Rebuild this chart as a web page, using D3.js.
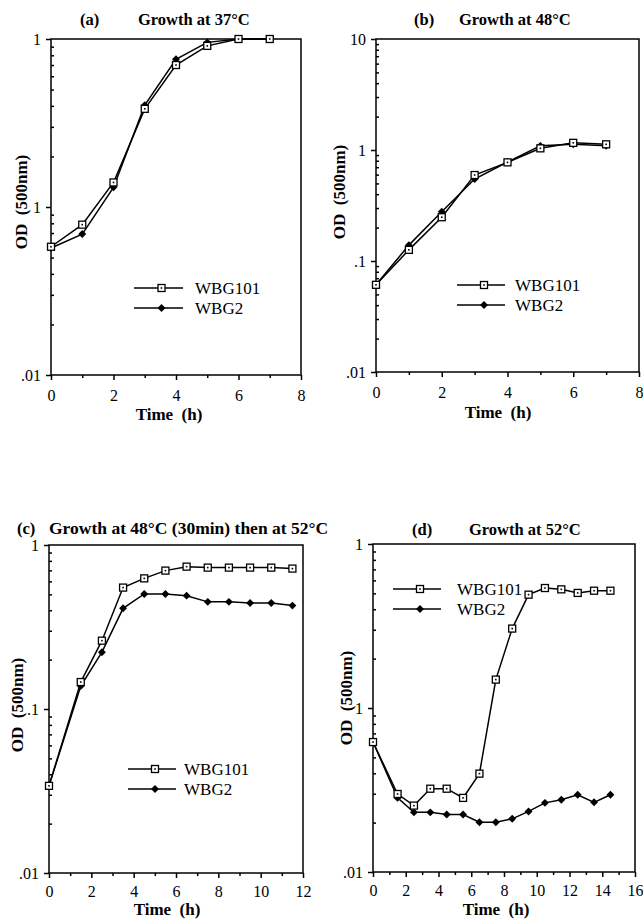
<!DOCTYPE html>
<html>
<head>
<meta charset="utf-8">
<script src="https://cdn.jsdelivr.net/npm/d3@7"></script>
<style>
  body { margin: 0; background: #fff; }
  svg text { font-family: "Liberation Serif", "Times New Roman", serif; fill: #000; white-space: pre; }
  .title, .axis-title { font-weight: bold; }
</style>
</head>
<body>
<svg id="chart" width="643" height="919"></svg>
<script>
// ---- data ----
var timeA = [0, 1, 2, 3, 4, 5, 6, 7];
var wbg101A = [0.058, 0.0785, 0.14, 0.384, 0.70, 0.91, 1.0, 1.0];
var wbg2A   = [0.057, 0.069, 0.131, 0.404, 0.757, 0.955, 1.0, 1.0];

var timeB = [0, 1, 2, 3, 4, 5, 6, 7];
var wbg101B = [0.061, 0.126, 0.248, 0.595, 0.774, 1.035, 1.16, 1.125];
var wbg2B   = [0.061, 0.139, 0.278, 0.548, 0.78, 1.09, 1.125, 1.09];

var timeC = [0, 1.5, 2.5, 3.5, 4.5, 5.5, 6.5, 7.5, 8.5, 9.5, 10.5, 11.5];
var wbg101C = [0.034, 0.146, 0.261, 0.55, 0.626, 0.698, 0.738, 0.728, 0.728, 0.728, 0.728, 0.718];
var wbg2C   = [0.034, 0.138, 0.222, 0.411, 0.503, 0.503, 0.491, 0.45, 0.45, 0.443, 0.443, 0.427];

var timeD = [0, 1.5, 2.5, 3.5, 4.5, 5.5, 6.5, 7.5, 8.5, 9.5, 10.5, 11.5, 12.5, 13.5, 14.5];
var wbg101D = [0.062, 0.0299, 0.0254, 0.0322, 0.0322, 0.0283, 0.0398, 0.149, 0.305, 0.491, 0.539, 0.529, 0.503, 0.519, 0.519];
var wbg2D   = [0.062, 0.0283, 0.0231, 0.0231, 0.0224, 0.0224, 0.0201, 0.0201, 0.0211, 0.0234, 0.0264, 0.0276, 0.0296, 0.0266, 0.0296];

var seriesNames = ["WBG101", "WBG2"];

// y tick labels as printed in the figure
var yTicksA = [0.01, 0.1, 1],       yLabelsA = [".01", "1", "1"];
var yTicksB = [0.01, 0.1, 1, 10],   yLabelsB = [".01", ".1", "1", "10"];
var yTicksC = [0.01, 0.1, 1],       yLabelsC = [".01", ".1", "1"];
var yTicksD = [0.01, 0.1, 1],       yLabelsD = [".01", "1", "1"];

var titlesA = ["(a)", "Growth at 37\u00B0C"];
var titlesB = ["(b)", "Growth at 48\u00B0C"];
var titlesC = ["(c)", "Growth at 48\u00B0C (30min) then at 52\u00B0C"];
var titlesD = ["(d)", "Growth at 52\u00B0C"];

var svg = d3.select("#chart");

var panels = [
  { box: [51, 301, 39, 375], xMax: 8,  yDom: [0.01, 1],  time: timeA, s1: wbg101A, s2: wbg2A,
    yTicks: yTicksA, yLabels: yLabelsA, titles: titlesA, tPos: [80, 138, 25], tSize: 16.5,
    legend: [134, 183, 288, 195], od: [27, 202], tickDy: 26, time_: [169, 420] },
  { box: [376, 639, 39, 372], xMax: 8,  yDom: [0.01, 10], time: timeB, s1: wbg101B, s2: wbg2B,
    yTicks: yTicksB, yLabels: yLabelsB, titles: titlesB, tPos: [414, 459, 25], tSize: 16.5,
    legend: [457, 505, 285, 515], od: [345, 192], tickDy: 26, time_: [498, 418] },
  { box: [49, 303, 545, 873], xMax: 12, yDom: [0.01, 1],  time: timeC, s1: wbg101C, s2: wbg2C,
    yTicks: yTicksC, yLabels: yLabelsC, titles: titlesC, tPos: [17, 49, 534], tSize: 17.5,
    legend: [128, 176, 769, 184], od: [23, 705], tickDy: 24, time_: [167, 915] },
  { box: [373, 635, 544, 872], xMax: 16, yDom: [0.01, 1], time: timeD, s1: wbg101D, s2: wbg2D,
    yTicks: yTicksD, yLabels: yLabelsD, titles: titlesD, tPos: [412, 469, 535], tSize: 16.5,
    legend: [393, 441, 589, 457], od: [352, 698], tickDy: 24, time_: [496, 915] }
];

function drawMarker(g, kind, x, y) {
  if (kind === 0) {
    g.append("rect").attr("x", x - 3.5).attr("y", y - 3.5).attr("width", 7).attr("height", 7)
      .attr("fill", "#fff").attr("stroke", "#000").attr("stroke-width", 1.3);
    g.append("rect").attr("x", x - 0.8).attr("y", y - 0.8).attr("width", 1.6).attr("height", 1.6)
      .attr("fill", "#000");
  } else {
    g.append("path").attr("d", d3.symbol(d3.symbolDiamond2, 40)()).attr("transform", "translate(" + x + "," + y + ")")
      .attr("fill", "#000");
  }
}

panels.forEach(function(p) {
  var left = p.box[0], right = p.box[1], top = p.box[2], bottom = p.box[3];
  var x = d3.scaleLinear().domain([0, p.xMax]).range([left, right]);
  var y = d3.scaleLog().domain(p.yDom).range([bottom, top]);
  var g = svg.append("g");

  // frame
  g.append("rect").attr("x", left).attr("y", top).attr("width", right - left).attr("height", bottom - top)
    .attr("fill", "none").attr("stroke", "#000").attr("stroke-width", 1.5);

  // y axis: major ticks outward, minor ticks inward
  var minors = [];
  p.yTicks.slice(0, -1).forEach(function(t) { for (var k = 2; k <= 9; k++) minors.push(t * k); });
  g.append("g").attr("transform", "translate(" + left + ",0)")
    .call(d3.axisLeft(y).tickValues(p.yTicks).tickSize(5).tickFormat(function(d, i) { return p.yLabels[i]; }))
    .call(function(a) {
      a.select(".domain").remove();
      a.selectAll("line").attr("stroke-width", 1.5);
      a.selectAll("text").attr("font-size", 16).attr("x", -10);
    });
  g.append("g").attr("transform", "translate(" + left + ",0)")
    .call(d3.axisRight(y).tickValues(minors).tickSize(3).tickFormat(""))
    .call(function(a) { a.select(".domain").remove(); a.selectAll("line").attr("stroke-width", 1.5); });

  // x axis
  var xMajor = d3.range(0, p.xMax + 1, 2), xMinor = d3.range(1, p.xMax, 2);
  g.append("g").attr("transform", "translate(0," + bottom + ")")
    .call(d3.axisBottom(x).tickValues(xMajor).tickSize(5).tickFormat(d3.format("d")))
    .call(function(a) {
      a.select(".domain").remove();
      a.selectAll("line").attr("stroke-width", 1.5);
      a.selectAll("text").attr("font-size", 16).attr("y", p.tickDy - 11);
    });
  g.append("g").attr("transform", "translate(0," + bottom + ")")
    .call(d3.axisBottom(x).tickValues(xMinor).tickSize(3).tickFormat(""))
    .call(function(a) { a.select(".domain").remove(); a.selectAll("line").attr("stroke-width", 1.5); });

  // titles
  g.append("text").attr("class", "title").attr("x", p.tPos[0]).attr("y", p.tPos[2]).attr("font-size", 16.5).text(p.titles[0]);
  g.append("text").attr("class", "title").attr("x", p.tPos[1]).attr("y", p.tPos[2]).attr("font-size", p.tSize).text(p.titles[1]);

  g.append("text").attr("class", "axis-title").attr("font-size", 17).attr("text-anchor", "middle")
    .attr("x", p.time_[0]).attr("y", p.time_[1]).text("Time  (h)");
  g.append("text").attr("class", "axis-title").attr("font-size", 17).attr("text-anchor", "middle")
    .attr("transform", "translate(" + p.od[0] + "," + p.od[1] + ") rotate(-90)")
    .text("OD  (500nm)");

  // series
  var line = d3.line().x(function(d) { return x(d[0]); }).y(function(d) { return y(d[1]); });
  [p.s1, p.s2].forEach(function(s) {
    var pts = p.time.map(function(t, i) { return [t, s[i]]; });
    g.append("path").datum(pts).attr("d", line).attr("fill", "none").attr("stroke", "#000").attr("stroke-width", 1.5);
  });
  [p.s2, p.s1].forEach(function(s, j) {
    var k = j === 0 ? 1 : 0;
    p.time.forEach(function(t, i) { drawMarker(g, k, x(t), y(s[i])); });
  });

  // legend
  var lg = p.legend;
  seriesNames.forEach(function(name, k) {
    var ly = lg[2] + k * 20;
    g.append("line").attr("x1", lg[0]).attr("x2", lg[1]).attr("y1", ly).attr("y2", ly)
      .attr("stroke", "#000").attr("stroke-width", 1.5);
    drawMarker(g, k, (lg[0] + lg[1]) / 2 + 3, ly);
    g.append("text").attr("x", lg[3]).attr("y", ly + 6).attr("font-size", 17).text(name);
  });
});
</script>
</body>
</html>
